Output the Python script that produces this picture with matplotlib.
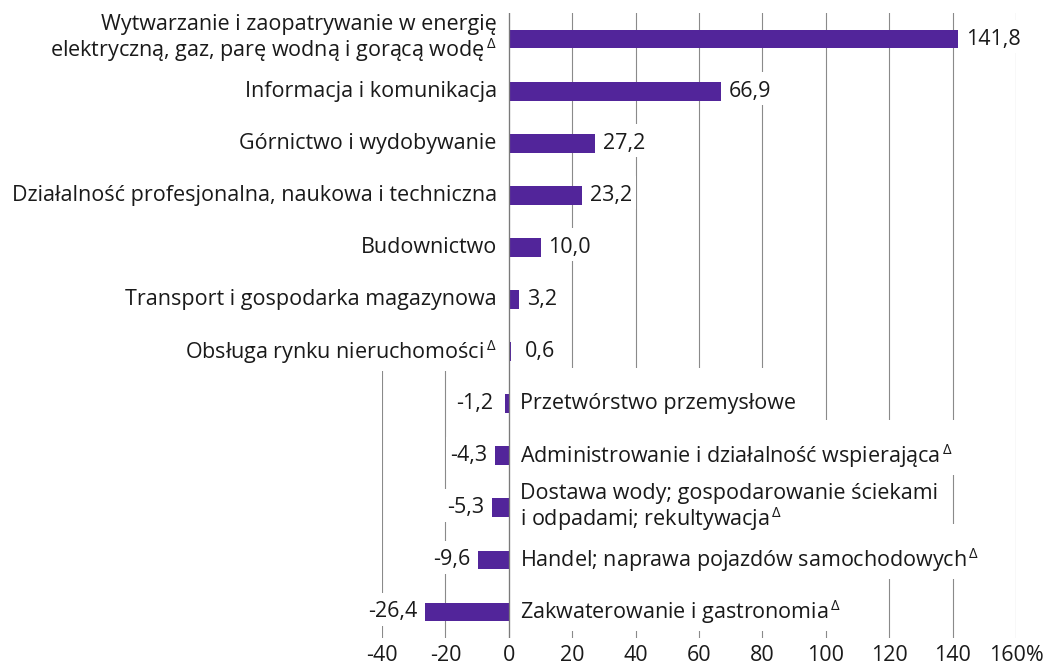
import matplotlib
matplotlib.use("Agg")
import matplotlib.pyplot as plt
from matplotlib.patches import Rectangle
from matplotlib.transforms import IdentityTransform
import numpy as np

# ---------------- data ----------------
categories = [
    "Wytwarzanie i zaopatrywanie w energię\nelektryczną, gaz, parę wodną i gorącą wodę",
    "Informacja i komunikacja",
    "Górnictwo i wydobywanie",
    "Działalność profesjonalna, naukowa i techniczna",
    "Budownictwo",
    "Transport i gospodarka magazynowa",
    "Obsługa rynku nieruchomości",
    "Przetwórstwo przemysłowe",
    "Administrowanie i działalność wspierająca",
    "Dostawa wody; gospodarowanie ściekami\ni odpadami; rekultywacja",
    "Handel; naprawa pojazdów samochodowych",
    "Zakwaterowanie i gastronomia",
]
values = [141.8, 66.9, 27.2, 23.2, 10.0, 3.2, 0.6, -1.2, -4.3, -5.3, -9.6, -26.4]
delta_flag = [1, 0, 0, 0, 0, 0, 1, 0, 1, 1, 1, 1]
x_ticks = [-40, -20, 0, 20, 40, 60, 80, 100, 120, 140, 160]
x_tick_labels = ["-40", "-20", "0", "20", "40", "60", "80", "100", "120", "140", "160%"]

# ---------------- style ----------------
FONT = "Open Sans"
plt.rcParams["font.family"] = [FONT, "DejaVu Sans"]
plt.rcParams["mathtext.fontset"] = "custom"
plt.rcParams["mathtext.rm"] = FONT
plt.rcParams["mathtext.it"] = FONT
plt.rcParams["mathtext.bf"] = FONT

BAR = "#52259A"
TXT = "#1a1a1a"
GRID = "#8a8a8a"
FS = 15.5
PX = 72 / 100  # points per pixel

fig = plt.figure(figsize=(10.55, 6.71), dpi=100)
ax = fig.add_axes([382 / 1055, 33 / 671, 634 / 1055, 625 / 671])

y = np.arange(len(values))
ax.barh(y, values, height=0.36, color=BAR, zorder=4)
ax.set_xlim(-40, 160)
ax.set_ylim(11.5, -0.5)

ax.set_xticks(x_ticks)
ax.set_xticklabels(x_tick_labels)
ax.tick_params(axis="x", length=0, pad=5, labelsize=FS, colors=TXT)
ax.tick_params(axis="y", left=False, labelleft=False)
for s in ax.spines.values():
    s.set_visible(False)
ax.grid(axis="x", color=GRID, lw=0.8)
ax.set_axisbelow(True)
ax.axvline(0, color="#7a7a7a", lw=0.9, zorder=6)

cat_texts = []
val_texts = []
for i, (cat, v, f) in enumerate(zip(categories, values, delta_flag)):
    lab = cat + (r"$^{\,\Delta}$" if f else "")
    if v >= 0:
        t = ax.annotate(lab, (0, i), xytext=(-12 * PX, 0), textcoords="offset points",
                        ha="right", va="center", multialignment="right",
                        fontsize=FS, color=TXT, linespacing=1.03, zorder=5)
    else:
        t = ax.annotate(lab, (0, i), xytext=(11 * PX, 0), textcoords="offset points",
                        ha="left", va="center", multialignment="left",
                        fontsize=FS, color=TXT, linespacing=1.03, zorder=5)
    cat_texts.append(t)
    sign = 1 if v >= 0 else -1
    pos = sign * max(abs(v) + 2.5, 5.0)
    vt = ax.text(pos, i, f"{v:.1f}".replace(".", ","), ha="left" if v >= 0 else "right",
                 va="center", fontsize=FS, color=TXT, zorder=5)
    val_texts.append(vt)

# white backing boxes behind labels (hide gridlines like the reference)
fig.canvas.draw()
renderer = fig.canvas.get_renderer()
for i, (t, vt) in enumerate(zip(cat_texts, val_texts)):
    yc = ax.transData.transform((0, i))[1]
    bb = t.get_window_extent(renderer)
    y0 = min(bb.y0 - 2, yc - 19)
    y1 = max(bb.y1 + 2, yc + 36)
    r = Rectangle((bb.x0 - 4, y0), bb.width + 8, y1 - y0, transform=IdentityTransform(),
                  facecolor="white", edgecolor="none", zorder=2.5, clip_on=False)
    ax.add_artist(r)
    vb = vt.get_window_extent(renderer)
    r2 = Rectangle((vb.x0 - 4, yc - 14), vb.width + 8, 33, transform=IdentityTransform(),
                   facecolor="white", edgecolor="none", zorder=2.5, clip_on=False)
    ax.add_artist(r2)

fig.savefig("out.png", dpi=100)
